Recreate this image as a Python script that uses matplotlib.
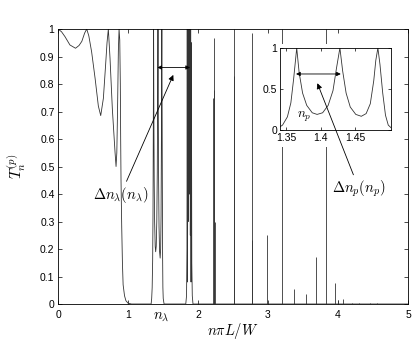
import numpy as np
import matplotlib
matplotlib.use('Agg')
import matplotlib.pyplot as plt
from matplotlib.patches import Rectangle
from matplotlib.transforms import blended_transform_factory

plt.rcParams['font.family'] = ['Liberation Sans', 'DejaVu Sans']
plt.rcParams['mathtext.fontset'] = 'cm'
plt.rcParams['font.size'] = 7.5

# smooth part below the first cutoff
n_smooth = [0.00, 0.05, 0.10, 0.17, 0.25, 0.30, 0.34, 0.38, 0.41,
            0.44, 0.48, 0.53, 0.576, 0.61, 0.648, 0.68, 0.70, 0.719,
            0.743, 0.776, 0.814, 0.829, 0.840, 0.850, 0.862, 0.872,
            0.882, 0.890, 0.895, 0.900, 0.910, 0.920, 0.930, 0.950,
            0.970, 1.000, 1.050]
T_smooth = [1.000, 0.990, 0.972, 0.942, 0.930, 0.940, 0.955, 0.985, 1.000,
            0.975, 0.917, 0.820, 0.720, 0.685, 0.748, 0.870, 0.950, 1.000,
            0.893, 0.710, 0.554, 0.500, 0.550, 0.700, 0.920, 1.000,
            0.960, 0.800, 0.600, 0.450, 0.280, 0.150, 0.070, 0.030,
            0.012, 0.003, 0.000]

# transmission window around n_lambda (also shown in the inset)
n_window = [1.330, 1.338, 1.345, 1.352, 1.357, 1.361, 1.3655, 1.369, 1.374,
            1.380, 1.388, 1.395, 1.403, 1.411, 1.418, 1.423, 1.428, 1.432,
            1.437, 1.443, 1.451, 1.459, 1.466, 1.472, 1.477, 1.480, 1.483,
            1.486, 1.490, 1.494, 1.498, 1.503, 1.515]
T_window = [0.000, 0.020, 0.060, 0.160, 0.330, 0.620, 1.000, 0.700, 0.450,
            0.300, 0.210, 0.190, 0.210, 0.300, 0.480, 0.750, 1.000, 0.720,
            0.450, 0.280, 0.190, 0.167, 0.200, 0.320, 0.600, 0.850, 1.000,
            0.800, 0.450, 0.180, 0.060, 0.020, 0.000]

# cluster of resonances near 1.87
n_cluster = [1.825, 1.836, 1.842, 1.846, 1.850, 1.855, 1.860, 1.865, 1.870,
             1.875, 1.880, 1.885, 1.890, 1.895, 1.900, 1.905, 1.911, 1.918,
             1.928]
T_cluster = [0.000, 0.030, 0.200, 1.000, 0.080, 1.000, 0.300, 1.000, 0.400,
             1.000, 0.400, 1.000, 0.250, 1.000, 0.080, 0.950, 0.150, 0.030,
             0.000]

# isolated narrow resonances
n_peaks = [2.215, 2.224, 2.233, 2.241, 2.514, 2.521, 2.767, 2.776, 2.990,
           3.195, 3.376, 3.543, 3.690, 3.829, 3.957, 4.000, 4.076, 4.200,
           4.300, 4.450, 4.550]
T_peaks = [0.750, 0.966, 0.780, 0.300, 0.830, 1.000, 0.233, 0.985, 0.250,
           1.000, 0.055, 0.036, 0.170, 1.000, 0.075, 0.013, 0.018, 0.004,
           0.003, 0.004, 0.003]

x_ticks = [0, 1, 2, 3, 4, 5]
y_ticks = [0, 0.1, 0.2, 0.3, 0.4, 0.5, 0.6, 0.7, 0.8, 0.9, 1]
y_ticklabels = ['0', '0.1', '0.2', '0.3', '0.4', '0.5', '0.6', '0.7', '0.8', '0.9', '1']
inset_xticks = [1.35, 1.4, 1.45]
inset_xticklabels = ['1.35', '1.4', '1.45']
inset_yticks = [0, 0.5, 1]
inset_yticklabels = ['0', '0.5', '1']

line_col = '0.2'

fig = plt.figure(figsize=(4.15, 3.42), dpi=100)
ax = fig.add_axes([0.1398, 0.1111, 0.8434, 0.8041])

n_all = np.concatenate([n_smooth, n_window, n_cluster, [5.0]])
T_all = np.concatenate([T_smooth, T_window, T_cluster, [0.0]])
ax.plot(n_all, T_all, color=line_col, lw=0.6)
ax.vlines(n_peaks, 0, T_peaks, color=line_col, lw=0.6)

ax.set_xlim(0, 5)
ax.set_ylim(0, 1)
ax.set_xticks(x_ticks)
ax.set_yticks(y_ticks)
ax.set_yticklabels(y_ticklabels)
ax.tick_params(direction='in', top=True, right=True, length=3, width=0.5,
               labelsize=7.5)
ax.tick_params(axis='x', pad=4)
ax.tick_params(axis='y', pad=2.5)
for s in ax.spines.values():
    s.set_linewidth(0.6)

ax.set_xlabel(r'$n\pi L/W$', fontsize=10.5)
ax.xaxis.set_label_coords(0.5, -0.06)
ax.set_ylabel(r'$T_n^{(p)}$', fontsize=11)
ax.yaxis.set_label_coords(-0.085, 0.5)

trans = blended_transform_factory(ax.transData, ax.transAxes)
ax.text(1.47, -0.02, r'$n_\lambda$', transform=trans, ha='center', va='top',
        fontsize=10.5)

ax.annotate('', xy=(1.419, 0.86), xytext=(1.886, 0.86),
            arrowprops=dict(arrowstyle='<|-|>', color='k', lw=0.6,
                            mutation_scale=6, shrinkA=0, shrinkB=0))
ax.annotate(r'$\Delta n_\lambda(n_\lambda)$', xy=(1.647, 0.833),
            xytext=(0.89, 0.395), ha='center', va='center', fontsize=10.5,
            arrowprops=dict(arrowstyle='-|>', color='k', lw=0.6,
                            mutation_scale=8, shrinkA=1, shrinkB=0))

# white area that hides the tall peaks behind the inset
fig.add_artist(Rectangle((0.631, 0.570), 0.318, 0.301, transform=fig.transFigure,
                         facecolor='white', edgecolor='none', zorder=2))

axins = fig.add_axes([0.6747, 0.6199, 0.2675, 0.2398])
axins.set_zorder(3)
axins.plot(n_window, T_window, color=line_col, lw=0.6)
axins.set_xlim(1.3413, 1.502)
axins.set_ylim(0, 1)
axins.set_xticks(inset_xticks)
axins.set_xticklabels(inset_xticklabels)
axins.set_yticks(inset_yticks)
axins.set_yticklabels(inset_yticklabels)
axins.tick_params(direction='in', top=True, right=True, length=2.5, width=0.5,
                  labelsize=7.5, pad=2)
for s in axins.spines.values():
    s.set_linewidth(0.6)
axins.text(1.377, 0.16, r'$n_p$', ha='center', va='center', fontsize=9.5)
axins.annotate('', xy=(1.3645, 0.683), xytext=(1.4293, 0.683),
               arrowprops=dict(arrowstyle='<|-|>', color='k', lw=0.6,
                               mutation_scale=6, shrinkA=0, shrinkB=0))
axins.annotate(r'$\Delta n_p(n_p)$', xy=(1.3954, 0.57), xycoords='data',
               xytext=(4.3, 0.418), textcoords=ax.transData,
               ha='center', va='center', fontsize=10.5, annotation_clip=False,
               arrowprops=dict(arrowstyle='-|>', color='k', lw=0.6,
                               mutation_scale=8, shrinkA=1, shrinkB=0))

fig.savefig('out.png', dpi=100)
